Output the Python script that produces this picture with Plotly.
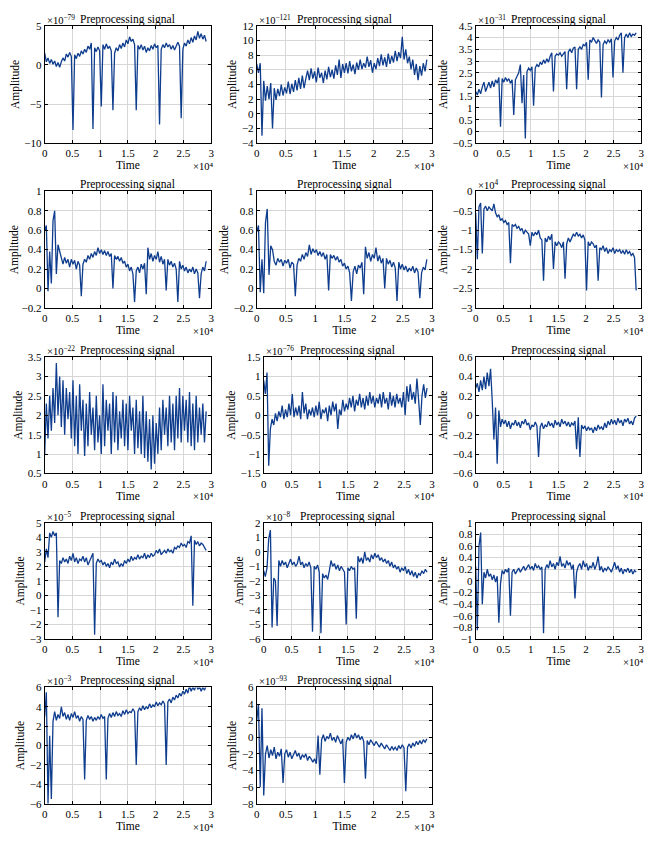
import plotly.graph_objects as go

# ---------------- DATA ----------------
TIME_STEP = 300  # sample spacing of the hand-read series (time units)
X_TICKS = [0, 5000, 10000, 15000, 20000, 25000, 30000]
X_TICK_LABELS = ["0", "0.5", "1", "1.5", "2", "2.5", "3"]
TITLE = "Preprocessing signal"
X_LABEL = "Time"
Y_LABEL = "Amplitude"
X_EXPONENT = "×10⁴"

sig1 = [1.5, 0.4, 0.9, 0.2, 0.7, 0.1, 0.5, -0.2, 0.3, -0.3,
        0.4, 0.9, 0.5, 1.4, 1.0, 1.6, 1.1,
        -8.3,
        1.3, 0.8, 1.5, 1.1, 1.8, 1.4, 2.0, 1.6, 2.4, 2.0, 2.8,
        -8.2,
        2.2, 1.7, 2.3, 1.8,
        -5.3,
        2.6, 2.0, 2.7, 2.1, 2.4, 1.8,
        -5.8,
        1.5, 2.2, 1.8, 2.6, 2.1, 2.8, 2.3, 3.2, 2.7, 3.6, 3.0, 3.3, 2.6,
        -5.8,
        2.5, 2.0, 2.6, 1.9, 2.4, 1.6, 2.2, 1.8, 2.5, 2.0, 2.7, 2.2, 2.5,
        -7.6,
        2.0, 2.6, 2.2, 2.8, 2.3, 2.6, 2.0, 2.5, 1.9, 2.3, 2.9, 2.4,
        -6.8,
        2.0, 2.8, 2.4, 3.2, 2.7, 3.5, 2.9, 3.7, 3.2, 4.3, 3.4, 4.0, 3.3, 3.8, 3.0]

sig2 = [6.8, 5.6, 6.9, -3.0,
        4.5, 1.8, 3.8, 2.0, 4.2,
        -2.0,
        3.5, 1.9, 3.4, 2.4, 4.0, 2.5, 3.6, 2.8, 4.4, 2.7, 4.1, 3.0, 4.6, 3.2, 4.9, 3.4, 5.2, 3.5, 4.8,
        5.9, 4.6, 6.2, 4.8, 5.8, 4.3, 6.3, 4.9, 5.6, 4.2, 5.9, 4.7, 6.4, 5.0, 6.0, 4.8, 6.6, 5.3,
        7.4, 4.9, 6.8, 5.6, 6.9, 5.5, 7.2, 5.8, 6.7, 5.4, 7.0, 6.0, 7.4, 6.1, 6.9, 6.3, 7.8,
        6.4, 7.3, 5.6, 6.9, 6.1, 7.6, 6.5, 8.1, 6.6, 7.7, 6.4, 8.2, 6.8, 7.9, 7.0, 8.6, 7.2, 8.4, 7.6,
        10.5,
        7.4, 8.8, 6.9, 7.8, 6.1, 7.4, 5.3, 6.8, 4.6, 6.5, 5.2, 6.9, 5.8, 7.4]

sig3 = [1.7, 1.55, 1.8, 1.6, 1.9, 2.1, 1.7, 1.95, 2.1, 1.85, 2.15, 1.9, 2.2, 2.05, 2.3,
        0.2,
        2.25, 2.1, 2.3, 2.15, 2.25, 2.05, 2.2,
        0.7,
        2.2, 2.35, 2.5, 2.85, 1.2, 2.4, -0.3,
        2.55, 2.7, 2.6, 2.75,
        1.1,
        2.7, 2.85, 2.75, 2.95, 2.85, 3.05, 2.9, 3.1, 2.95, 3.2, 3.35,
        1.7,
        3.2, 3.3, 3.25, 3.35, 3.2, 3.3, 3.4,
        1.8,
        3.4, 3.5, 3.35, 3.55, 3.6,
        1.8,
        3.5, 3.6, 3.5, 3.7, 3.65, 3.8,
        2.2,
        3.9, 3.8, 4.0, 3.85, 3.75, 3.9, 3.8,
        1.45,
        3.7, 3.85, 3.75, 3.9, 3.8, 3.95,
        2.3,
        3.85, 4.0, 3.9, 4.1, 4.2,
        2.5,
        4.0, 4.15, 4.0, 4.2, 4.05, 4.15, 4.1, 4.2]

sig4 = [0.6, 0.65, -0.03, 0.38, 0.05, 0.7, 0.8, 0.15, 0.45, 0.38,
        0.3, 0.25, 0.32, 0.26, 0.3, 0.22, 0.3, 0.25, 0.29, 0.2, 0.28, 0.24,
        -0.08,
        0.25, 0.3, 0.27, 0.34, 0.3, 0.36, 0.32, 0.38, 0.34, 0.42, 0.36, 0.4, 0.35, 0.39, 0.34, 0.38, 0.33, 0.36,
        0.0,
        0.34, 0.3, 0.33, 0.28, 0.32, 0.26, 0.28, 0.22, 0.25, 0.18, 0.22, 0.15,
        -0.14,
        0.18, 0.22, 0.16, 0.25, 0.2, 0.26,
        -0.06,
        0.42, 0.3, 0.36, 0.28, 0.34, 0.3, 0.38, 0.27, 0.33, 0.25, 0.3,
        -0.02,
        0.3, 0.24, 0.28, 0.22, 0.26, 0.2,
        -0.14,
        0.28, 0.2, 0.24, 0.18, 0.22, 0.16, 0.2, 0.17, 0.22, 0.15, 0.2, 0.16,
        -0.1,
        0.15, 0.22, 0.18, 0.28]

sig5 = [0.58, 0.65, -0.04, 0.3, -0.05, 0.68, 0.82, 0.14, 0.44, 0.4,
        0.28, 0.24, 0.31, 0.27, 0.3, 0.23, 0.29, 0.26, 0.3, 0.21, 0.27, 0.25,
        -0.08,
        0.24, 0.31, 0.28, 0.35, 0.3, 0.37, 0.33, 0.45, 0.35, 0.41, 0.37, 0.4, 0.34, 0.38, 0.33, 0.37, 0.3, 0.35,
        -0.02,
        0.35, 0.31, 0.34, 0.29, 0.33, 0.27, 0.3, 0.23, 0.26, 0.2, 0.23, 0.16,
        -0.13,
        0.17, 0.23, 0.15, 0.24, 0.21, 0.27,
        -0.06,
        0.43, 0.31, 0.37, 0.28, 0.35, 0.31, 0.42, 0.28, 0.34, 0.26, 0.31,
        0.0,
        0.31, 0.25, 0.29, 0.22, 0.27, 0.21,
        -0.13,
        0.27, 0.2, 0.25, 0.19, 0.23, 0.17, 0.21, 0.18, 0.23, 0.16, 0.21, 0.17,
        -0.1,
        0.16, 0.22, 0.19, 0.3]

sig6 = [-0.55, -1.75, -0.4, -0.3, -1.6, -0.45, -0.38, -0.5, -0.4, -0.45,
        -0.5, -0.32, -0.55, -0.65, -0.6, -0.75, -0.7, -0.8, -0.75, -0.85,
        -0.8, -1.85, -0.85, -0.9, -0.85, -0.95, -0.9, -1.0, -0.95, -1.1,
        -1.0, -1.05, -1.1, -1.4, -1.05, -1.15, -1.05, -1.12, -1.0, -1.2,
        -1.25, -2.3, -1.2, -1.3, -1.15, -1.25, -1.1, -2.0, -1.3, -1.4,
        -1.3, -1.35, -1.45, -1.3, -2.25, -1.35, -1.2, -1.3, -1.22, -1.1,
        -1.15, -1.05, -1.15, -1.1, -1.2, -1.12, -1.25, -2.55, -1.3, -1.4,
        -1.3, -1.35, -1.45, -1.38, -2.3, -1.45, -1.5, -1.4, -1.55, -1.45,
        -1.6, -1.5, -1.55, -1.45, -1.6, -1.5, -1.55, -1.5, -1.6, -1.52,
        -1.62, -1.5, -1.6, -1.55, -1.65, -1.6, -1.7, -2.55]

sig7 = [1.0, 2.3, 1.4, 2.5, 1.6, 2.7, 1.8, 3.35, 2.0, 3.0,
        1.7, 2.9, 1.5, 2.7, 1.9, 2.6, 1.4, 2.9, 1.2, 2.5,
        1.0, 2.8, 1.6, 2.4, 0.95, 2.3, 1.2, 2.6, 1.5, 2.2,
        1.1, 2.5, 1.3, 2.0, 1.0, 2.8, 1.2, 2.4, 1.6, 2.3,
        1.0, 2.6, 1.3, 2.5, 1.1, 2.1, 1.4, 2.4, 1.2, 2.3,
        1.1, 2.5, 1.6, 2.2, 1.0, 2.4, 1.15, 2.1, 1.0, 2.5,
        0.9, 2.1, 0.8, 1.9, 0.6, 2.0, 0.75, 1.8, 1.0, 2.2,
        1.1, 2.4, 1.5, 2.2, 1.2, 2.5, 1.3, 2.3, 1.1, 2.5,
        1.4, 2.7, 1.3, 2.5, 1.6, 2.4, 1.3, 2.6, 1.2, 2.3,
        1.1, 2.5, 1.3, 2.2, 1.5, 2.3, 1.3, 2.1]

sig8 = [0.9, 0.55, 1.1, -1.3,
        -0.35, -0.1, -0.25, 0.05, -0.15, 0.1,
        -0.05, 0.25, -0.1, 0.15, -0.05, 0.3, 0.0, 0.55, -0.05, 0.2,
        0.0, 0.25, -0.1, 0.6, 0.05, 0.3, -0.1, 0.15, 0.0, 0.2,
        -0.05, 0.25, 0.0, 0.35, -0.1, 0.15, 0.05, 0.2, -0.15, 0.25,
        0.0, 0.35, 0.1, 0.3, -0.35, 0.15, 0.0, 0.4, 0.1, 0.3,
        0.15, 0.45, 0.2, 0.5, 0.1, 0.4, 0.25, 0.55, 0.2, 0.45,
        0.15, 0.5, 0.25, 0.6, 0.3, 0.5, 0.2, 0.45, 0.3, 0.55,
        0.2, 0.6, 0.3, 0.45, 0.15, 0.6, 0.25, 0.5, 0.2, 0.55,
        0.3, 0.45, 0.2, 0.6, 0.0, 0.75, 0.35, 0.8, 0.4, 0.6,
        0.3, 0.95, 0.4, -0.25, 0.5, 0.8, 0.45, 0.7]

sig9 = [0.28, 0.33, 0.24, 0.36, 0.26, 0.4, 0.27, 0.44, 0.3, 0.48,
        0.15, -0.25, 0.08, -0.5, 0.05, -0.12, -0.04, -0.09,
        -0.05, -0.12, -0.06, -0.14, -0.08, -0.1, -0.05, -0.11, -0.07, -0.13,
        -0.06, -0.09, -0.04, -0.1, -0.08, -0.15, -0.1, -0.12, -0.07, -0.11,
        -0.43,
        -0.12, -0.08, -0.14, -0.1, -0.12, -0.06, -0.11, -0.08, -0.13, -0.05,
        -0.1, -0.07, -0.12, -0.04, -0.09, -0.06, -0.11, -0.07, -0.12, -0.08,
        -0.1, -0.06,
        -0.35, -0.02, -0.43,
        -0.1, -0.14, -0.11, -0.16, -0.12, -0.15, -0.13, -0.18, -0.12, -0.16,
        -0.1, -0.14, -0.12, -0.15, -0.08, -0.13, -0.06, -0.1, -0.04, -0.09,
        -0.05, -0.1, -0.03, -0.08, -0.05, -0.11, -0.04, -0.07, -0.03, -0.09,
        -0.06, -0.1, -0.03, -0.01]

sig10 = [2.3, 3.2, 2.6, 4.3, 4.0, 4.4, 4.1, 4.3, -1.5, 2.4,
         2.2, 2.6, 2.3, 2.5, 2.2, 2.7, 2.4, 2.9, 2.3, 2.6,
         2.2, 2.5, 2.4, 2.7, 2.3, 2.6, 2.1, 2.4, 2.6, 2.9,
         -2.7,
         2.2, 2.5, 2.3, 2.4, 2.1, 2.3, 2.0, 2.2, 1.9, 2.3,
         2.1, 2.5, 2.2, 2.3, 1.95, 2.2, 2.0, 2.4, 2.2,
         2.5, 2.3, 2.7, 2.4, 2.6, 2.5, 2.8, 2.5, 2.7, 2.6,
         2.9, 2.5, 2.8, 2.6, 2.9, 2.7, 2.8,
         3.1, 2.9, 3.2, 2.8, 3.0, 3.1, 2.9, 3.2, 3.0, 3.1,
         2.9, 3.3, 3.2, 3.4, 3.3, 3.6, 3.4, 3.5, 3.3, 3.7, 3.6,
         4.1, -0.7,
         3.8, 3.5, 3.7, 3.4, 3.6, 3.5, 3.3, 3.1]

sig11 = [-1.3, -1.7, -1.1, 0.9, 1.5, -5.2, -1.8, -2.0, -5.1, -0.6,
         -1.0, -0.6, -0.9, -0.7, -1.1, -0.8, -0.5, -0.9, -0.7, -1.0,
         -0.8, -0.3, -0.9, -0.7, -1.1, -0.8, -1.0, -0.7, -1.1,
         -5.5,
         -1.0, -1.2, -0.9, -1.4, -5.6,
         -1.5, -1.8, -1.6, -1.9, -1.3, -0.6, -1.0, -0.8, -1.2, -0.9,
         -1.3, -1.0, -1.2, -1.4,
         -5.0,
         -1.1, -1.3, -1.0, -1.2, -1.1,
         -4.6,
         -0.3, -0.7, -0.4, -0.8, 0.0, -0.6, -0.4, -0.7, -0.2, -0.5,
         -0.1, -0.4, -0.2, -0.6, -0.4, -0.7, -0.5, -0.8, -0.6, -1.0,
         -0.7, -1.1, -0.9, -1.2, -1.0, -1.4, -1.1, -1.3, -1.0, -1.5,
         -1.2, -1.6, -1.3, -1.7, -1.4, -1.8, -1.5, -1.6, -1.3, -1.5, -1.2, -1.4]

sig12 = [0.25, -0.85, 0.6, 0.83, -0.4, 0.15, 0.05, 0.2, 0.08, 0.12,
         0.02, 0.1, -0.02, 0.08,
         -0.72, -0.05, 0.18, 0.12, 0.2, 0.15, 0.22,
         -0.6,
         0.15, 0.2, 0.12, 0.18, 0.22, 0.15, 0.2, 0.25, 0.18, 0.22,
         0.28, 0.2, 0.25, 0.18, 0.3, 0.22, 0.26, 0.2, 0.24,
         -0.9,
         0.2, 0.28, 0.22, 0.35, 0.24, 0.3, 0.2, 0.32, 0.26, 0.42,
         0.25, 0.3, 0.22, 0.35, 0.27, 0.32, 0.2, 0.28,
         -0.3,
         0.15, 0.25, 0.3, 0.2, 0.35, 0.24, 0.3, 0.18, 0.26, 0.22,
         0.32, 0.2, 0.28, 0.42, 0.18, 0.25, 0.15, 0.22, 0.18, 0.24,
         0.2, 0.15, 0.23, 0.32, 0.2, 0.26, 0.15, 0.22, 0.12, 0.2,
         0.16, 0.22, 0.14, 0.2, 0.12, 0.18, 0.15]

sig13 = [3.0, 5.5, -6.0, 1.0, -5.5, 2.5, 3.5, 2.6, 3.2, 2.8,
         4.0, 3.0, 3.4, 2.7, 3.2, 2.6, 3.3, 2.9, 3.5, 2.8, 3.1, 2.5, 3.0, 2.7,
         -3.5,
         2.6, 3.1, 2.7, 3.0, 2.5, 2.9, 2.6, 3.0, 2.7, 3.2, 2.8, 3.0,
         -3.5,
         2.8, 3.3, 2.9, 3.4, 3.0, 3.5, 3.1, 3.3, 3.0, 3.6, 3.2, 3.7, 3.3, 3.5, 3.4, 3.8, 3.5,
         -2.0,
         3.5, 3.9, 3.6, 4.1, 3.7, 4.0, 3.8, 4.3, 3.9, 4.2, 4.0, 4.5, 4.1, 4.4, 4.2, 4.6, 4.3,
         -2.0,
         4.5, 4.8, 4.4, 5.0, 4.7, 5.2, 4.9, 5.4, 5.1, 5.6,
         5.3, 5.8, 5.4, 6.2, 5.6, 6.0, 5.7, 6.3, 5.8, 6.1, 5.6, 6.0, 5.7, 6.2]

sig14 = [2.0, 4.0, -6.0, 3.5, -7.0, -2.0, -1.0, -2.5, -1.5, -2.2,
         -1.2, -2.6, -1.8, -2.3, -1.4,
         -5.5,
         -2.0, -1.5, -2.4, -1.8, -2.6, -2.0, -1.6, -2.3, -1.9, -2.7,
         -2.1, -2.4, -2.0, -2.8, -2.3, -2.6,
         -3.0, -2.6, -3.2,
         0.2, -4.5,
         -0.3, 0.3, -0.5, 0.1, -0.2, 0.5, -0.4, 0.0, -0.6, 0.2, -0.3, -0.8, -0.2,
         -5.5,
         -0.6, 0.0, -0.4, 0.3, -0.2, 0.5, -0.1, 0.3, -0.3, 0.1, -0.5,
         -5.0,
         -0.4, -0.9, -0.3, -0.7, -1.0, -0.5, -0.8, -1.2, -0.7, -1.1,
         -1.4, -0.9, -1.3, -1.6, -1.1, -1.5, -1.2, -1.6, -1.0, -1.4, -0.9, -1.3,
         -6.5,
         -1.2, -0.8, -1.3, -0.7, -1.1, -0.5, -0.9, -0.4, -0.8, -0.3, -0.6, -0.2]

SIGNALS = [sig1, sig2, sig3, sig4, sig5, sig6, sig7, sig8, sig9, sig10, sig11, sig12, sig13, sig14]

Y_TICKS = [
    [-10, -5, 0, 5],
    [-4, -2, 0, 2, 4, 6, 8, 10, 12],
    [-0.5, 0, 0.5, 1, 1.5, 2, 2.5, 3, 3.5, 4, 4.5],
    [-0.2, 0, 0.2, 0.4, 0.6, 0.8, 1],
    [-0.2, 0, 0.2, 0.4, 0.6, 0.8, 1],
    [-3, -2.5, -2, -1.5, -1, -0.5, 0],
    [0.5, 1, 1.5, 2, 2.5, 3, 3.5],
    [-1.5, -1, -0.5, 0, 0.5, 1, 1.5],
    [-0.6, -0.4, -0.2, 0, 0.2, 0.4, 0.6],
    [-3, -2, -1, 0, 1, 2, 3, 4, 5],
    [-6, -5, -4, -3, -2, -1, 0, 1, 2],
    [-1, -0.8, -0.6, -0.4, -0.2, 0, 0.2, 0.4, 0.6, 0.8, 1],
    [-6, -4, -2, 0, 2, 4, 6],
    [-8, -6, -4, -2, 0, 2, 4, 6],
]
Y_EXPONENTS = ["−79", "−121", "−31", None, None, "4", "−22", "−76", None,
               "−5", "−8", None, "−3", "−93"]

# ---------------- LAYOUT / STYLE ----------------
W, H = 652, 852
BOXES = [  # left, right, top, bottom in pixels
    (34, 202, 12, 131), (248, 425, 12, 131), (469, 636, 12, 131),
    (34, 202, 180, 298), (248, 425, 180, 298), (469, 636, 180, 298),
    (34, 202, 348, 466), (255, 425, 348, 466), (469, 636, 348, 466),
    (34, 202, 516, 634), (255, 425, 516, 634), (469, 636, 516, 634),
    (34, 202, 683, 801), (248, 425, 683, 801),
]
FONT = "Liberation Serif"
LINE_COLOR = "#0f3d8e"
GRID_COLOR = "#d6d6d6"


def fmt(v):
    s = f"{v:g}"
    return s.replace("-", "−")


fig = go.Figure()
annotations = []
for k, (sig, box, yt, ex) in enumerate(zip(SIGNALS, BOXES, Y_TICKS, Y_EXPONENTS)):
    n = k + 1
    xa = "x" if n == 1 else f"x{n}"
    ya = "y" if n == 1 else f"y{n}"
    t = [i * TIME_STEP for i in range(len(sig))]
    fig.add_trace(go.Scatter(x=t, y=sig, mode="lines", xaxis=xa, yaxis=ya,
                             line=dict(color=LINE_COLOR, width=1.3),
                             showlegend=False, hoverinfo="skip"))
    l, r, tp, bt = box
    xd = [l / W, r / W]
    yd = [1 - bt / H, 1 - tp / H]
    common = dict(showline=True, linecolor="black", linewidth=0.8, mirror="ticks",
                  ticks="inside", ticklen=3, tickcolor="black", tickwidth=0.8,
                  showgrid=True, gridcolor=GRID_COLOR, gridwidth=0.6, zeroline=False,
                  tickfont=dict(family=FONT, size=11, color="black"))
    fig.layout[f"xaxis{'' if n == 1 else n}"] = dict(
        domain=xd, anchor=ya, range=[0, 30000], tickvals=X_TICKS, ticktext=X_TICK_LABELS,
        title=dict(text=X_LABEL, font=dict(family=FONT, size=11.5, color="black"), standoff=1),
        **common)
    fig.layout[f"yaxis{'' if n == 1 else n}"] = dict(
        domain=yd, anchor=xa, range=[yt[0], yt[-1]], tickvals=yt, ticktext=[fmt(v) for v in yt],
        title=dict(text=Y_LABEL, font=dict(family=FONT, size=11.5, color="black"), standoff=2),
        **common)
    # title
    annotations.append(dict(text=TITLE, xref="paper", yref="paper", x=(xd[0] + xd[1]) / 2,
                            y=yd[1], yanchor="bottom", xanchor="center", showarrow=False,
                            yshift=-2, font=dict(family=FONT, size=11.5, color="black")))
    # x exponent
    annotations.append(dict(text=X_EXPONENT, xref="paper", yref="paper", x=xd[1],
                            y=yd[0], yanchor="top", xanchor="right", showarrow=False,
                            xshift=4, yshift=-16, font=dict(family=FONT, size=10.5, color="black")))
    if ex is not None:
        annotations.append(dict(text=f"×10<sup>{ex}</sup>", xref="paper", yref="paper",
                                x=xd[0], y=yd[1], yanchor="bottom", xanchor="left",
                                showarrow=False, yshift=-2,
                                font=dict(family=FONT, size=10.5, color="black")))

fig.update_layout(width=W, height=H, margin=dict(l=0, r=0, t=0, b=0),
                  paper_bgcolor="white", plot_bgcolor="white",
                  annotations=annotations, hovermode=False)
fig.write_html("out.html")
